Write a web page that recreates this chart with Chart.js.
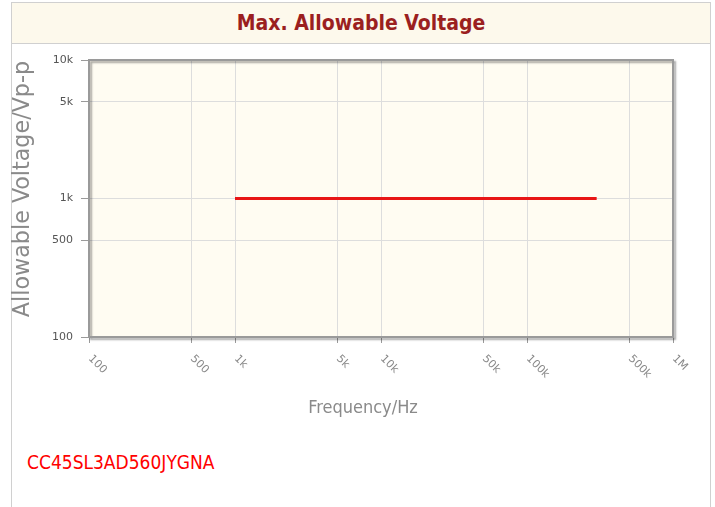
<!DOCTYPE html>
<html>
<head>
<meta charset="utf-8">
<script src="https://cdn.jsdelivr.net/npm/chart.js@4/dist/chart.umd.min.js"></script>
<style>
  body { margin: 0; background: #fff; font-family: "DejaVu Sans", sans-serif; }
  #frame { position: absolute; left: 11px; top: 2px; width: 698px; height: 510px; border: 1px solid #d0d0d0; }
  #head { height: 40px; background: #fdf9ec; border-bottom: 1px solid #d0d0d0; text-align: center;
    font: bold 21px "DejaVu Sans Condensed", "DejaVu Sans", sans-serif; color: #9b1f1f; line-height: 40px; }
  #wrap { position: absolute; left: 0; top: 0; width: 715px; height: 440px; }
  #part { position: absolute; left: 27px; top: 451px; color: #f00;
    font: 19px "DejaVu Sans Condensed", "DejaVu Sans", sans-serif; }
</style>
</head>
<body>
<div id="frame"><div id="head">Max. Allowable Voltage</div></div>
<div id="wrap"><canvas id="chart" width="715" height="440"></canvas></div>
<div id="part">CC45SL3AD560JYGNA</div>
<script>
const freqs = [1000, 300000];
const volts = [1000, 1000];
const xTicks = [100, 500, 1000, 5000, 10000, 50000, 100000, 500000, 1000000];
const xTickLabels = ['100', '500', '1k', '5k', '10k', '50k', '100k', '500k', '1M'];
const yTicks = [100, 500, 1000, 5000, 10000];
const yTickLabels = ['100', '500', '1k', '5k', '10k'];

const frameBox = {
    id: 'frameBox',
    beforeDraw(chart) {
        const { ctx, chartArea: a } = chart;
        ctx.save();
        ctx.fillStyle = '#fffcf2';
        ctx.fillRect(a.left, a.top, a.right - a.left, a.bottom - a.top);
        ctx.restore();
    },
    afterDatasetsDraw(chart) {
        const { ctx, chartArea: a } = chart;
        ctx.save();
        ctx.shadowColor = 'rgba(0,0,0,0.35)';
        ctx.shadowOffsetX = 2;
        ctx.shadowOffsetY = 2;
        ctx.shadowBlur = 2;
        ctx.strokeStyle = '#9a9a9a';
        ctx.lineWidth = 2;
        ctx.strokeRect(a.left, a.top, a.right - a.left, a.bottom - a.top);
        ctx.restore();
    },
    afterDraw(chart) {
        const { ctx, chartArea: a } = chart;
        const xs = chart.scales.x;
        ctx.save();
        ctx.fillStyle = '#888';
        ctx.font = '11px "DejaVu Sans", sans-serif';
        ctx.textAlign = 'left';
        ctx.textBaseline = 'middle';
        xTicks.forEach((v, i) => {
            const px = xs.getPixelForValue(v);
            ctx.save();
            ctx.translate(px + 1, a.bottom + 20);
            ctx.rotate(Math.PI / 4);
            ctx.fillText(xTickLabels[i], 0, 0);
            ctx.restore();
        });
        ctx.fillStyle = '#8a8a8a';
        ctx.font = '18px "DejaVu Sans Condensed", "DejaVu Sans", sans-serif';
        ctx.textAlign = 'center';
        ctx.fillText('Frequency/Hz', 363, 408);
        ctx.font = '23px "DejaVu Sans Condensed", "DejaVu Sans", sans-serif';
        ctx.save();
        ctx.translate(23, 189);
        ctx.rotate(-Math.PI / 2);
        ctx.scale(1.075, 1);
        ctx.fillText('Allowable Voltage/Vp-p', 0, 0);
        ctx.restore();
        ctx.restore();
    }
};

new Chart(document.getElementById('chart'), {
    type: 'line',
    data: {
        datasets: [{
            data: freqs.map((f, i) => ({ x: f, y: volts[i] })),
            borderColor: '#e81515',
            borderWidth: 3,
            pointRadius: 0,
            fill: false
        }]
    },
    options: {
        responsive: false,
        animation: false,
        layout: { padding: { left: 0, top: 60, right: 42, bottom: 0 } },
        plugins: { legend: { display: false }, tooltip: { enabled: false } },
        scales: {
            x: {
                type: 'logarithmic',
                min: 100,
                max: 1000000,
                afterBuildTicks: s => { s.ticks = xTicks.map(v => ({ value: v })); },
                afterFit: s => { s.height = 103; },
                ticks: { display: false },
                border: { display: false },
                grid: { color: '#dddddd', tickColor: '#9a9a9a', tickLength: 6 }
            },
            y: {
                type: 'logarithmic',
                min: 100,
                max: 10000,
                afterBuildTicks: s => { s.ticks = yTicks.map(v => ({ value: v })); },
                afterFit: s => { s.width = 89; },
                ticks: {
                    color: '#555',
                    font: { family: 'DejaVu Sans', size: 11 },
                    padding: 8,
                    callback: (v) => yTickLabels[yTicks.indexOf(v)]
                },
                border: { display: false },
                grid: { color: '#dddddd', tickColor: '#9a9a9a', tickLength: 8 }
            }
        }
    },
    plugins: [frameBox]
});
</script>
</body>
</html>
